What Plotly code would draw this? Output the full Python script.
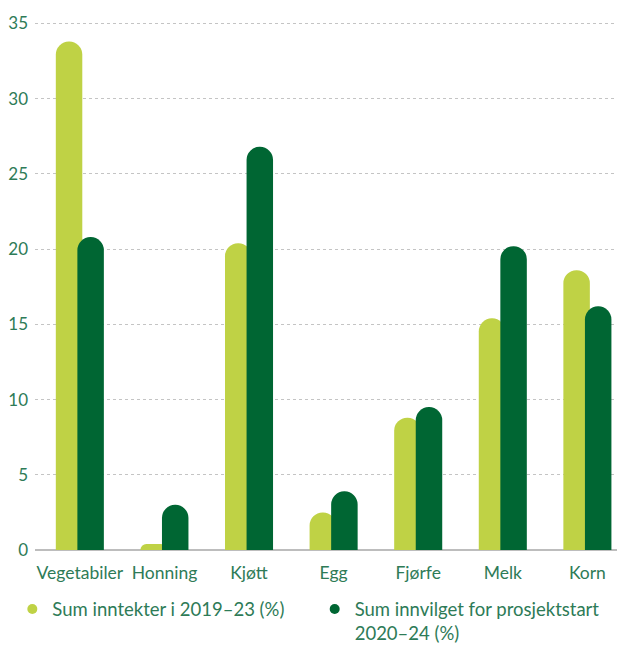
import plotly.graph_objects as go

categories = ["Vegetabiler", "Honning", "Kjøtt", "Egg", "Fjørfe", "Melk", "Korn"]
inntekter = [33.8, 0.4, 20.4, 2.5, 8.8, 15.4, 18.6]
innvilget = [20.8, 3.0, 26.8, 3.9, 9.5, 20.2, 16.2]
series_names = ["Sum inntekter i 2019–23 (%)", "Sum innvilget for prosjektstart<br>2020–24 (%)"]
y_ticks = [0, 5, 10, 15, 20, 25, 30, 35]

LIGHT = "#bfd245"
DARK = "#006633"
TEXT = "#2e7b57"
FONT = "Lato"

fig = go.Figure()
fig.add_trace(go.Bar(x=categories, y=inntekter, marker=dict(color=LIGHT, cornerradius="50%", line_width=0),
                     offset=-0.284, width=0.313, showlegend=False, hoverinfo="skip"))
fig.add_trace(go.Bar(x=categories, y=innvilget, marker=dict(color=DARK, cornerradius="50%", line_width=0),
                     offset=-0.029, width=0.313, showlegend=False, hoverinfo="skip"))
# legend entries with circle symbols
fig.add_trace(go.Scatter(x=[None], y=[None], mode="markers", name=series_names[0], legend="legend",
                         marker=dict(color=LIGHT, size=10, symbol="circle")))
fig.add_trace(go.Scatter(x=[None], y=[None], mode="markers", name=series_names[1], legend="legend2",
                         marker=dict(color=DARK, size=10, symbol="circle")))

legend_common = dict(orientation="h", xref="container", yref="container", y=0.086,
                     xanchor="left", yanchor="top", valign="top",
                     font=dict(family=FONT, size=18.5, color=TEXT), bgcolor="rgba(0,0,0,0)")

fig.update_layout(
    width=617, height=646,
    margin=dict(l=35, r=0, t=16, b=96),
    paper_bgcolor="white", plot_bgcolor="white",
    barmode="overlay",
    font=dict(family=FONT, size=17, color=TEXT),
    showlegend=True,
    legend=dict(x=0.02, **legend_common),
    legend2=dict(x=0.51, **legend_common),
    xaxis=dict(range=[-0.53, 6.35], showgrid=False, showline=False, zeroline=False,
               ticks="", tickfont=dict(family=FONT, size=17.5, color=TEXT), ticklabelstandoff=10,
               fixedrange=True),
    yaxis=dict(range=[0, 35.5], tickvals=y_ticks, showgrid=True, gridcolor="#c4c4c4",
               griddash="dot", gridwidth=1, zeroline=True, zerolinecolor="#bdbdbd", zerolinewidth=2,
               showline=False, ticks="", tickfont=dict(family=FONT, size=17, color=TEXT),
               ticklabelstandoff=6, fixedrange=True),
)

fig.write_html("out.html")
